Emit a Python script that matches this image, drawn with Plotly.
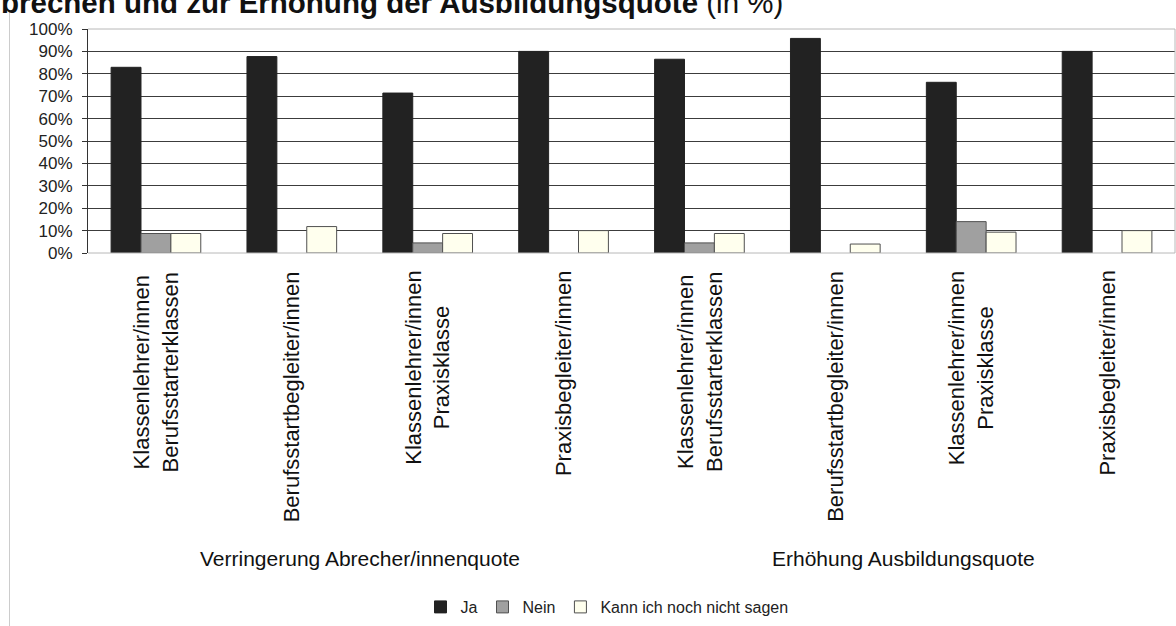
import plotly.graph_objects as go

# ---- data ----
groups = ["Verringerung Abrecher/innenquote", "Erhöhung Ausbildungsquote"]
subgroups = [
    "Klassenlehrer/innen<br>Berufsstarterklassen",
    "Berufsstartbegleiter/innen",
    "Klassenlehrer/innen<br>Praxisklasse",
    "Praxisbegleiter/innen",
    "Klassenlehrer/innen<br>Berufsstarterklassen",
    "Berufsstartbegleiter/innen",
    "Klassenlehrer/innen<br>Praxisklasse",
    "Praxisbegleiter/innen",
]
group_of = [0, 0, 0, 0, 1, 1, 1, 1]
series_names = ["Ja", "Nein", "Kann ich noch nicht sagen"]
ja = [82.9, 87.7, 71.4, 90.0, 86.5, 95.8, 76.2, 90.0]
nein = [8.7, None, 4.5, None, 4.5, None, 14.0, None]
kann = [8.7, 11.8, 8.7, 10.0, 8.7, 4.0, 9.3, 10.0]
y_ticks = list(range(0, 101, 10))
title_bold = "brechen und zur Erhöhung der Ausbildungsquote"
title_rest = " (in %)"

FONT = "Liberation Sans, Arial, sans-serif"
W, H = 1176, 626
ML, MR, MT, MB = 88, 1, 29, 373
PH = H - MT - MB


def py(px):
    """pixel y from top -> paper y"""
    return 1 - (px - MT) / PH


def pxx(px):
    return (px - ML) / (W - ML - MR)


xs = list(range(len(subgroups)))
fills = ["#222222", "#a0a0a0", "#ffffee"]
lines = ["#222222", "#505050", "#505050"]

fig = go.Figure()
for name, vals, fc, lc in zip(series_names, [ja, nein, kann], fills, lines):
    fig.add_trace(go.Bar(
        x=xs, y=vals, name=name,
        marker=dict(color=fc, line=dict(color=lc, width=1)),
        hoverinfo="skip",
    ))

annotations = []
# category labels (rotated)
for i, lab in enumerate(subgroups):
    annotations.append(dict(
        x=i, xref="x", y=py(269), yref="paper",
        text=lab, textangle=-90, showarrow=False,
        xanchor="center", yanchor="top", align="center",
        font=dict(family=FONT, size=22, color="#111111"),
    ))
# group labels
for g, gname in enumerate(groups):
    idx = [i for i, gg in enumerate(group_of) if gg == g]
    annotations.append(dict(
        x=(idx[0] + idx[-1]) / 2, xref="x", y=py(558), yref="paper",
        text=gname, showarrow=False, xanchor="center", yanchor="middle",
        font=dict(family=FONT, size=21, color="#111111"),
    ))
# title (cut at the top as in the source)
annotations.append(dict(
    x=pxx(-1), xref="paper", y=py(21), yref="paper",
    text="<b>" + title_bold + "</b>" + title_rest, showarrow=False,
    xanchor="left", yanchor="bottom",
    font=dict(family=FONT, size=29.5, color="#111111"),
))

shapes = [
    # plot frame (top, right, bottom) light gray
    dict(type="line", xref="paper", yref="paper", x0=0, x1=1, y0=1, y1=1,
         line=dict(color="#b8b8b8", width=1), layer="above"),
    dict(type="line", xref="paper", yref="paper", x0=1, x1=1, y0=0, y1=1,
         line=dict(color="#b8b8b8", width=1), layer="above"),
    dict(type="line", xref="paper", yref="paper", x0=0, x1=1, y0=0, y1=0,
         line=dict(color="#b8b8b8", width=1), layer="above"),
    # outer chart frame on the left
    dict(type="line", xref="paper", yref="paper", x0=pxx(9.5), x1=pxx(9.5),
         y0=py(10), y1=py(H + 5), line=dict(color="#cccccc", width=1)),
]

fig.update_layout(
    width=W, height=H,
    margin=dict(l=ML, r=MR, t=MT, b=MB, pad=0),
    paper_bgcolor="white", plot_bgcolor="white",
    barmode="group", bargap=0.34, bargroupgap=0,
    showlegend=True,
    legend=dict(
        orientation="h", x=pxx(607), xanchor="center", y=py(607), yanchor="middle",
        font=dict(family=FONT, size=16, color="#222222"),
        itemwidth=30, traceorder="normal", bgcolor="rgba(0,0,0,0)",
    ),
    xaxis=dict(
        range=[-0.5, len(subgroups) - 0.5], showticklabels=False,
        showgrid=False, zeroline=False, showline=False, ticks="",
        fixedrange=True,
    ),
    yaxis=dict(
        range=[0, 100], tickvals=y_ticks, ticktext=[f"{v}%" for v in y_ticks],
        showgrid=True, gridcolor="#3c3c3c", gridwidth=1,
        zeroline=False, showline=True, linecolor="#333333", linewidth=1,
        ticks="outside", ticklen=5, tickcolor="#333333",
        ticklabelstandoff=6,
        tickfont=dict(family=FONT, size=17, color="#222222"),
        fixedrange=True,
    ),
    annotations=annotations,
    shapes=shapes,
    font=dict(family=FONT),
)

fig.write_html(
    "out.html",
    config={"displayModeBar": False},
    post_script="document.body.style.margin='0';document.body.style.overflow='hidden';",
)
